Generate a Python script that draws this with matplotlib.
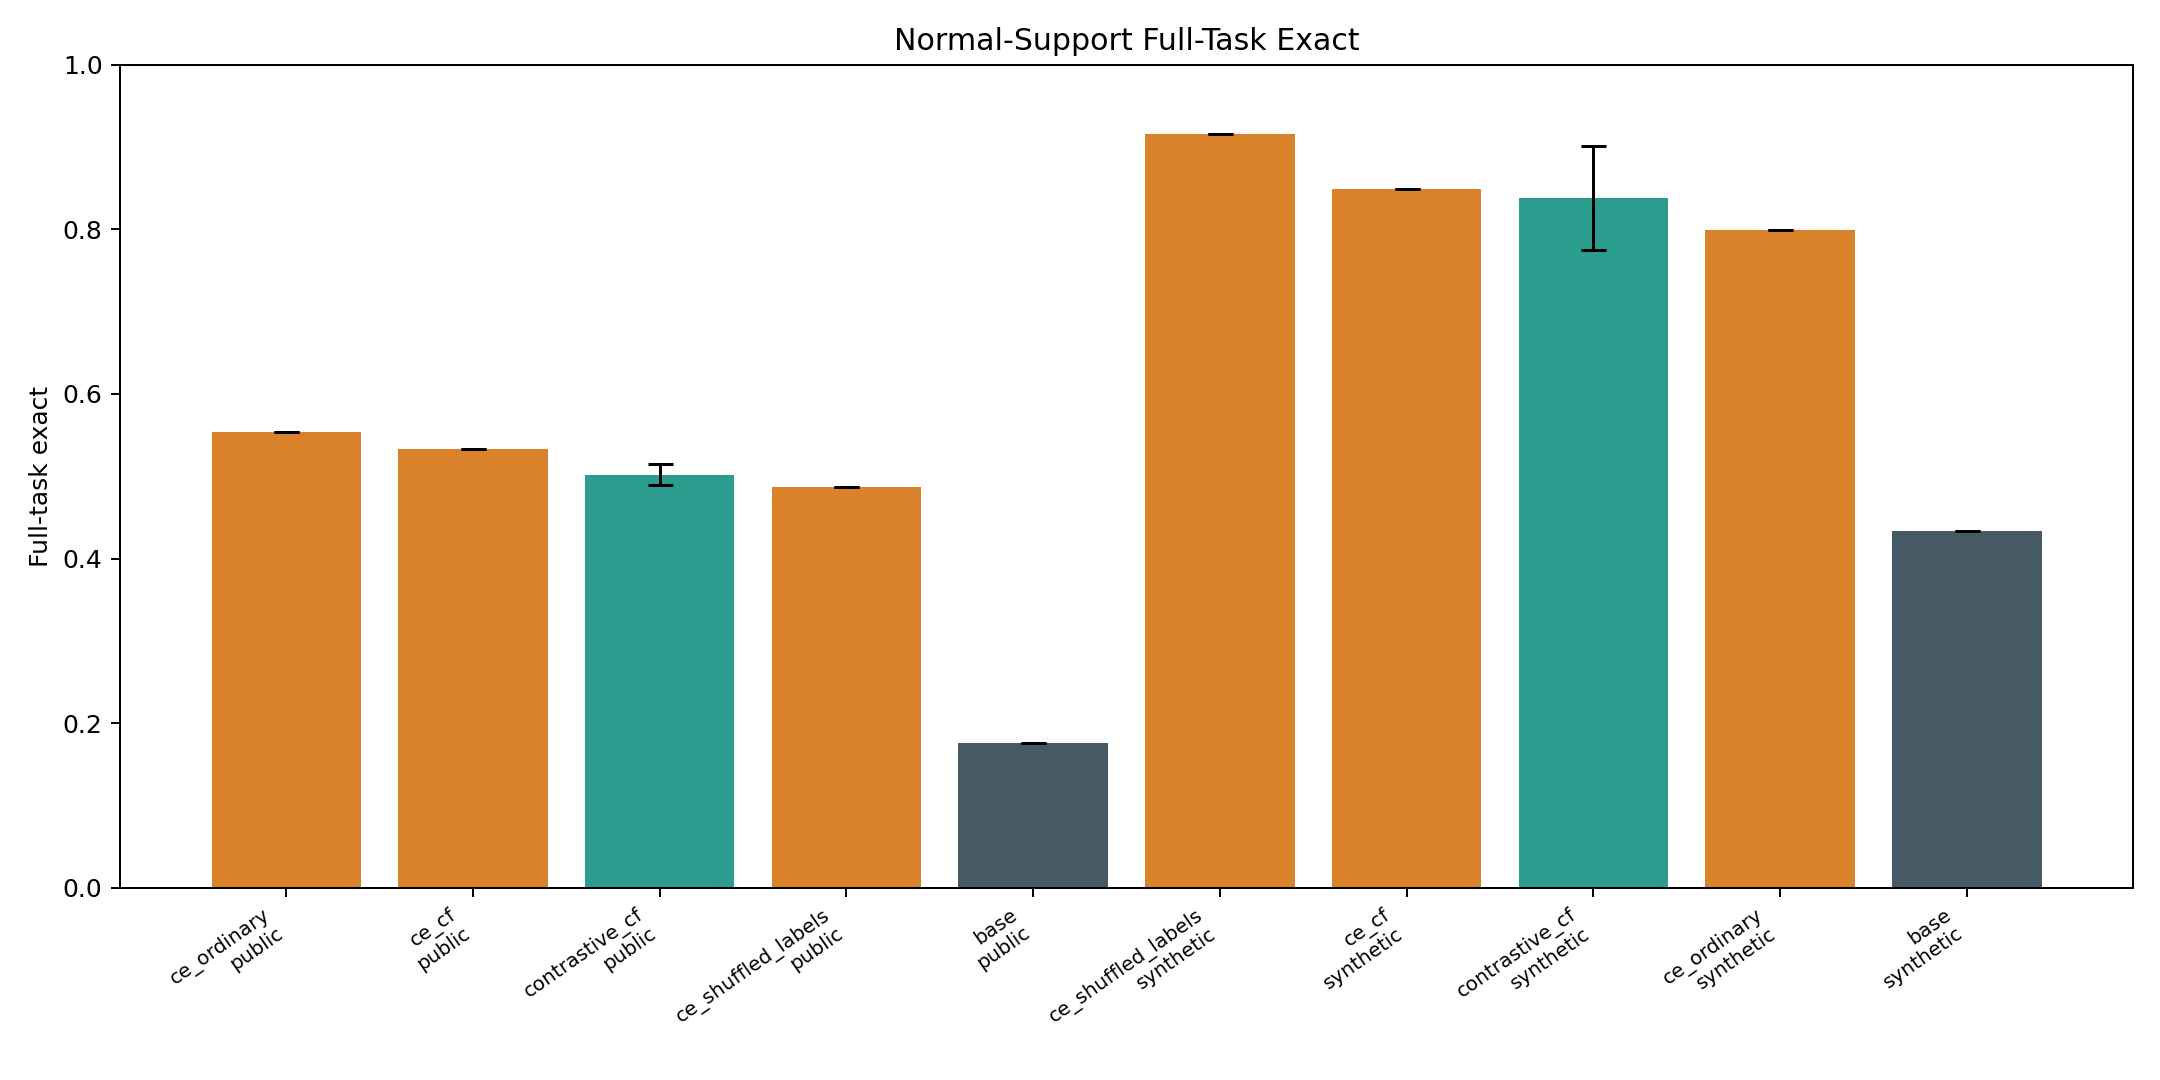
import matplotlib
matplotlib.use('Agg')
import matplotlib.pyplot as plt
import numpy as np

# Full-task exact match, normal-support split
methods = ['ce_ordinary', 'ce_cf', 'contrastive_cf', 'ce_shuffled_labels', 'base',
           'ce_shuffled_labels', 'ce_cf', 'contrastive_cf', 'ce_ordinary', 'base']
sources = ['public'] * 5 + ['synthetic'] * 5
means = [0.554, 0.533, 0.502, 0.487, 0.176, 0.916, 0.849, 0.838, 0.799, 0.433]
err_lo = [0.0, 0.0, 0.013, 0.0, 0.0, 0.0, 0.0, 0.063, 0.0, 0.0]
err_hi = [0.0, 0.0, 0.013, 0.0, 0.0, 0.0, 0.0, 0.063, 0.0, 0.0]

palette = {'ce': '#d9822b', 'contrastive': '#2a9d8f', 'base': '#465a65'}
colors = [palette['base'] if m == 'base' else
          palette['contrastive'] if m.startswith('contrastive') else palette['ce']
          for m in methods]

labels = [m + '\n' + s for m, s in zip(methods, sources)]
x = np.arange(len(means))

fig, ax = plt.subplots(figsize=(12, 6), dpi=180)
ax.bar(x, means, width=0.8, color=colors,
       yerr=[err_lo, err_hi], capsize=5, error_kw=dict(ecolor='black', elinewidth=1.2, capthick=1.2))

ax.set_ylim(0, 1.0)
ax.set_xticks(x)
ax.set_xticklabels(labels, rotation=35, ha='right', fontsize=8)
ax.set_ylabel('Full-task exact')
ax.set_title('Normal-Support Full-Task Exact')

fig.subplots_adjust(left=0.0556, right=0.9875, top=0.940, bottom=0.178)
fig.savefig('out.png')
